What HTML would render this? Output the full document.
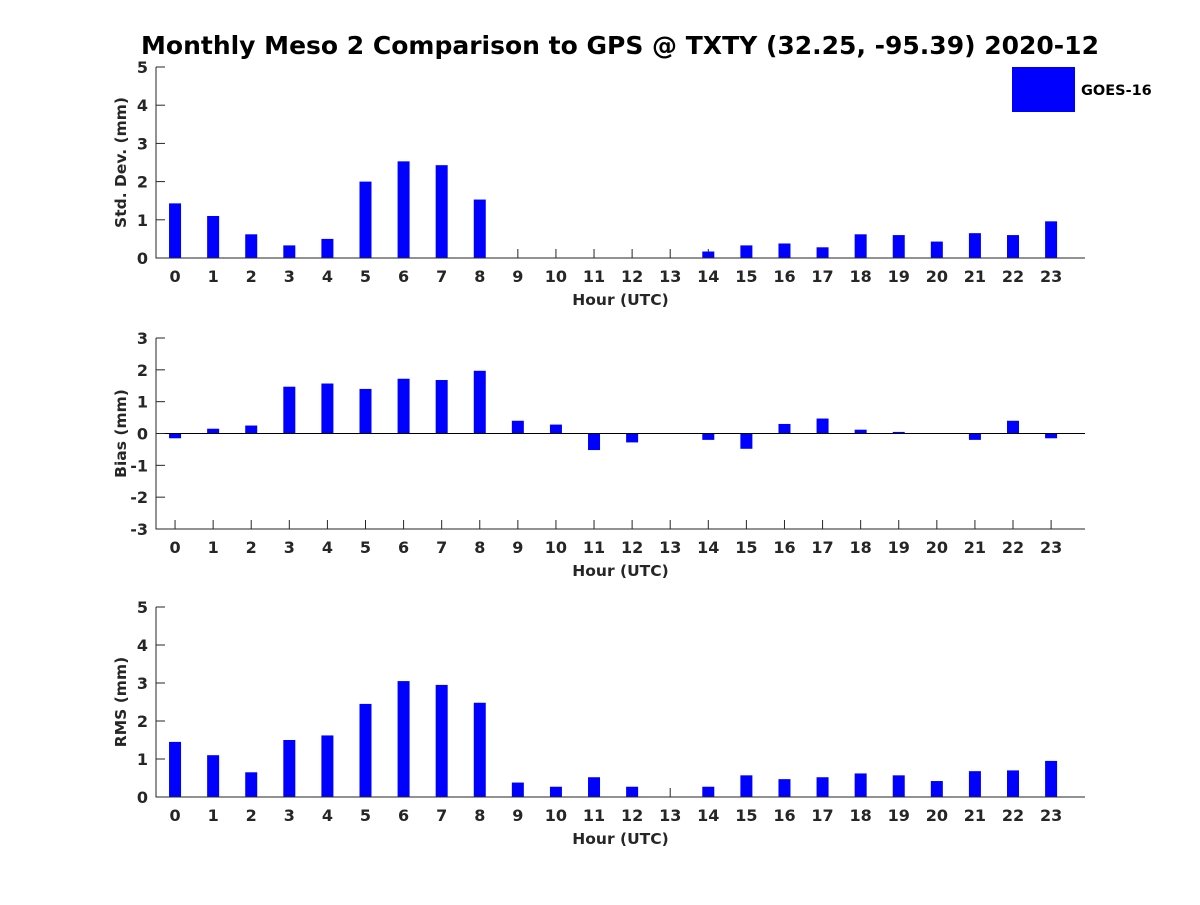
<!DOCTYPE html>
<html><head><meta charset="utf-8"><style>
html,body{margin:0;padding:0;background:#fff;}
svg text{font-family:"DejaVu Sans","Liberation Sans",sans-serif;font-weight:bold;fill:#262626;}
</style></head><body>
<svg id="chart" width="1200" height="900" xmlns="http://www.w3.org/2000/svg">
<text x="620" y="54" text-anchor="middle" font-size="25" style="fill:#000">Monthly Meso 2 Comparison to GPS @ TXTY (32.25, -95.39) 2020-12</text>
<rect x="1012" y="67" width="63" height="45" fill="#0000ff"/>
<text x="1081" y="95" font-size="14.5" style="fill:#000">GOES-16</text>
</svg>
<script>
const hours = [0,1,2,3,4,5,6,7,8,9,10,11,12,13,14,15,16,17,18,19,20,21,22,23];
const stdDev = [1.43,1.1,0.62,0.33,0.5,2.0,2.53,2.43,1.53,0,0,0,0,0,0.17,0.33,0.38,0.28,0.62,0.6,0.43,0.65,0.6,0.96];
const bias = [-0.15,0.15,0.25,1.47,1.57,1.4,1.72,1.68,1.97,0.4,0.28,-0.52,-0.28,0,-0.2,-0.48,0.3,0.47,0.12,0.05,0,-0.2,0.4,-0.15];
const rms = [1.45,1.1,0.65,1.5,1.62,2.45,3.05,2.95,2.48,0.38,0.27,0.52,0.27,0,0.27,0.57,0.47,0.52,0.62,0.57,0.42,0.68,0.7,0.95];
const stdTicks = [0,1,2,3,4,5];
const biasTicks = [-3,-2,-1,0,1,2,3];
const rmsTicks = [0,1,2,3,4,5];

const svg = document.getElementById('chart');
const NS = 'http://www.w3.org/2000/svg';
const X0 = 156, X1 = 1085, XMIN = -0.5, XMAX = 23.89;
function xPos(h){ return X0 + (h - XMIN) / (XMAX - XMIN) * (X1 - X0); }
function mk(tag, attrs){ const e = document.createElementNS(NS, tag); for (const k in attrs) e.setAttribute(k, attrs[k]); svg.appendChild(e); return e; }

function panel(name, top, bottom, ymin, ymax, ticks, values, ylabel){
  const y = v => bottom - (v - ymin) / (ymax - ymin) * (bottom - top);
  const zero = y(Math.max(ymin, 0));
  hours.forEach(h => {
    const x = xPos(h);
    const t = mk('line', {x1: x, x2: x, y1: bottom, y2: bottom - 9, stroke: '#262626', 'stroke-width': 1});
    
    
    const l = mk('text', {x: x, y: bottom + 24, 'text-anchor': 'middle', 'font-size': 16});
    l.textContent = h;
    
    
  });
  values.forEach((v, i) => {
    const x = xPos(hours[i]);
    const y1 = y(v);
    if (v !== 0) {
      const r = mk('rect', {x: x - 6, y: Math.min(y1, zero), width: 12, height: Math.abs(zero - y1), fill: '#0000ff'});
      
      
    }
  });
  if (ymin < 0) {
    const zl = mk('line', {x1: X0, x2: X1, y1: zero, y2: zero, stroke: '#000', 'stroke-width': 1});
    
    
  }
  ticks.forEach(v => {
    const yy = y(v);
    const t = mk('line', {x1: X0, x2: X0 + 9, y1: yy, y2: yy, stroke: '#262626', 'stroke-width': 1});
    
    
    const l = mk('text', {x: X0 - 8, y: yy + 6, 'text-anchor': 'end', 'font-size': 16});
    l.textContent = v;
    
    
  });
  const ax = mk('path', {d: `M${X0},${top} L${X0},${bottom} L${X1},${bottom}`, fill: 'none', stroke: '#262626', 'stroke-width': 1});
  
  
  const xl = mk('text', {x: (X0 + X1) / 2, y: bottom + 47, 'text-anchor': 'middle', 'font-size': 15.5});
  xl.textContent = 'Hour (UTC)';
  
  
  const cy = (top + bottom) / 2;
  const yl = mk('text', {x: 126, y: cy, 'text-anchor': 'middle', 'font-size': 15.5, transform: `rotate(-90 126 ${cy})`});
  yl.textContent = ylabel;
  
  
}
panel('std-dev', 67, 258, 0, 5, stdTicks, stdDev, 'Std. Dev. (mm)');
panel('bias', 338, 529, -3, 3, biasTicks, bias, 'Bias (mm)');
panel('rms', 607, 797, 0, 5, rmsTicks, rms, 'RMS (mm)');
</script>
</body></html>
